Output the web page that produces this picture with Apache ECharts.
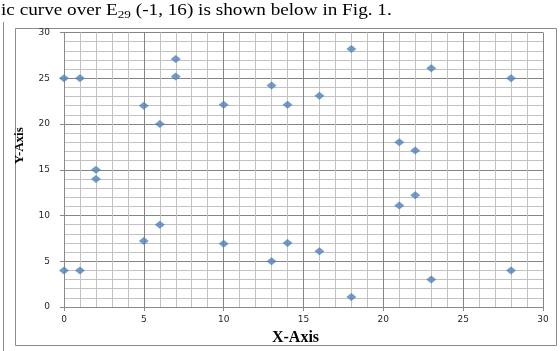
<!DOCTYPE html>
<html>
<head>
<meta charset="utf-8">
<script src="https://cdn.jsdelivr.net/npm/echarts@6/dist/echarts.min.js"></script>
<style>
html,body{margin:0;padding:0;background:#fff;}
#c{width:560px;height:351px;}
</style>
</head>
<body>
<div id="c"></div>
<script>
// Points of the curve as plotted (x, y)
var xValues = [0, 0, 1, 1, 2, 2, 5, 5, 6, 6, 7, 7, 10, 10, 13, 13, 14, 14, 16, 16, 18, 18, 21, 21, 22, 22, 23, 23, 28, 28];
var yValues = [4, 25, 4, 25, 14, 15, 7.2, 22, 9, 20, 25.2, 27.1, 6.9, 22.1, 5, 24.2, 7, 22.1, 6.1, 23.1, 1.1, 28.2, 11.1, 18, 12.2, 17.1, 3, 26.1, 4, 25];
var xTicks = [0, 5, 10, 15, 20, 25, 30];
var yTicks = [0, 5, 10, 15, 20, 25, 30];
var captionText = 'ic curve over E';
var captionSub = '29';
var captionRest = ' (-1, 16) is shown below in Fig. 1.';
var xTitle = 'X-Axis';
var yTitle = 'Y-Axis';

var points = xValues.map(function (x, i) { return [x, yValues[i]]; });

var chart = echarts.init(document.getElementById('c'), null, {renderer: 'canvas'});
var labelStyle = {fontFamily: 'DejaVu Sans', fontSize: 9, color: '#2a2235'};
function axisCommon(ticks) {
  return {
    type: 'value',
    min: ticks[0],
    max: ticks[ticks.length - 1],
    interval: ticks[1] - ticks[0],
    axisLine: {show: true, lineStyle: {color: '#8a8a8a', width: 1}},
    axisTick: {show: true, length: 4, lineStyle: {color: '#8a8a8a'}},
    minorTick: {show: false, splitNumber: 5},
    splitLine: {show: true, lineStyle: {color: '#858585', width: 1}},
    minorSplitLine: {show: true, lineStyle: {color: '#c2c2c2', width: 1}},
    axisLabel: Object.assign({}, labelStyle)
  };
}
var xa = axisCommon(xTicks);
xa.name = xTitle;
xa.nameLocation = 'middle';
xa.nameGap = 23;
xa.nameTextStyle = {fontFamily: 'Liberation Serif', fontWeight: 'bold', fontSize: 16, color: '#000', padding: [0, 16, 0, 0]};
xa.axisLabel.margin = 8;

var ya = axisCommon(yTicks);
ya.name = yTitle;
ya.nameLocation = 'middle';
ya.nameGap = 38;
ya.nameRotate = 90;
ya.nameTextStyle = {fontFamily: 'Liberation Serif', fontWeight: 'bold', fontSize: 13, color: '#000', padding: [0, 0, 0, 48]};
ya.axisLabel.margin = 14;

chart.setOption({
  animation: false,
  backgroundColor: '#fff',
  grid: {left: 64, right: 17, top: 32.5, bottom: 38, containLabel: false},
  xAxis: xa,
  yAxis: ya,
  graphic: [
    {type: 'rect', shape: {x: 15.5, y: 28.5, width: 541, height: 317}, style: {fill: 'none', stroke: '#8a8a8a', lineWidth: 1}, z: -1},
    {type: 'line', shape: {x1: 3.5, y1: 22, x2: 3.5, y2: 351}, style: {stroke: '#8a8a8a', lineWidth: 1}},
    {type: 'text', x: 1, y: 3, scaleX: 1.2, style: {
      text: '{a|' + captionText + '}{s|' + captionSub + '}{a|' + captionRest + '}',
      rich: {
        a: {fontFamily: 'Liberation Serif', fontSize: 16, fill: '#000', verticalAlign: 'top', lineHeight: 18},
        s: {fontFamily: 'Liberation Serif', fontSize: 11, fill: '#000', verticalAlign: 'top', lineHeight: 14, padding: [7, 0, 0, 0]}
      }
    }}
  ],
  series: [{
    type: 'scatter',
    data: points,
    symbol: 'diamond',
    symbolSize: [10, 8],
    itemStyle: {color: '#4f81bd'}
  }]
});
</script>
</body>
</html>
